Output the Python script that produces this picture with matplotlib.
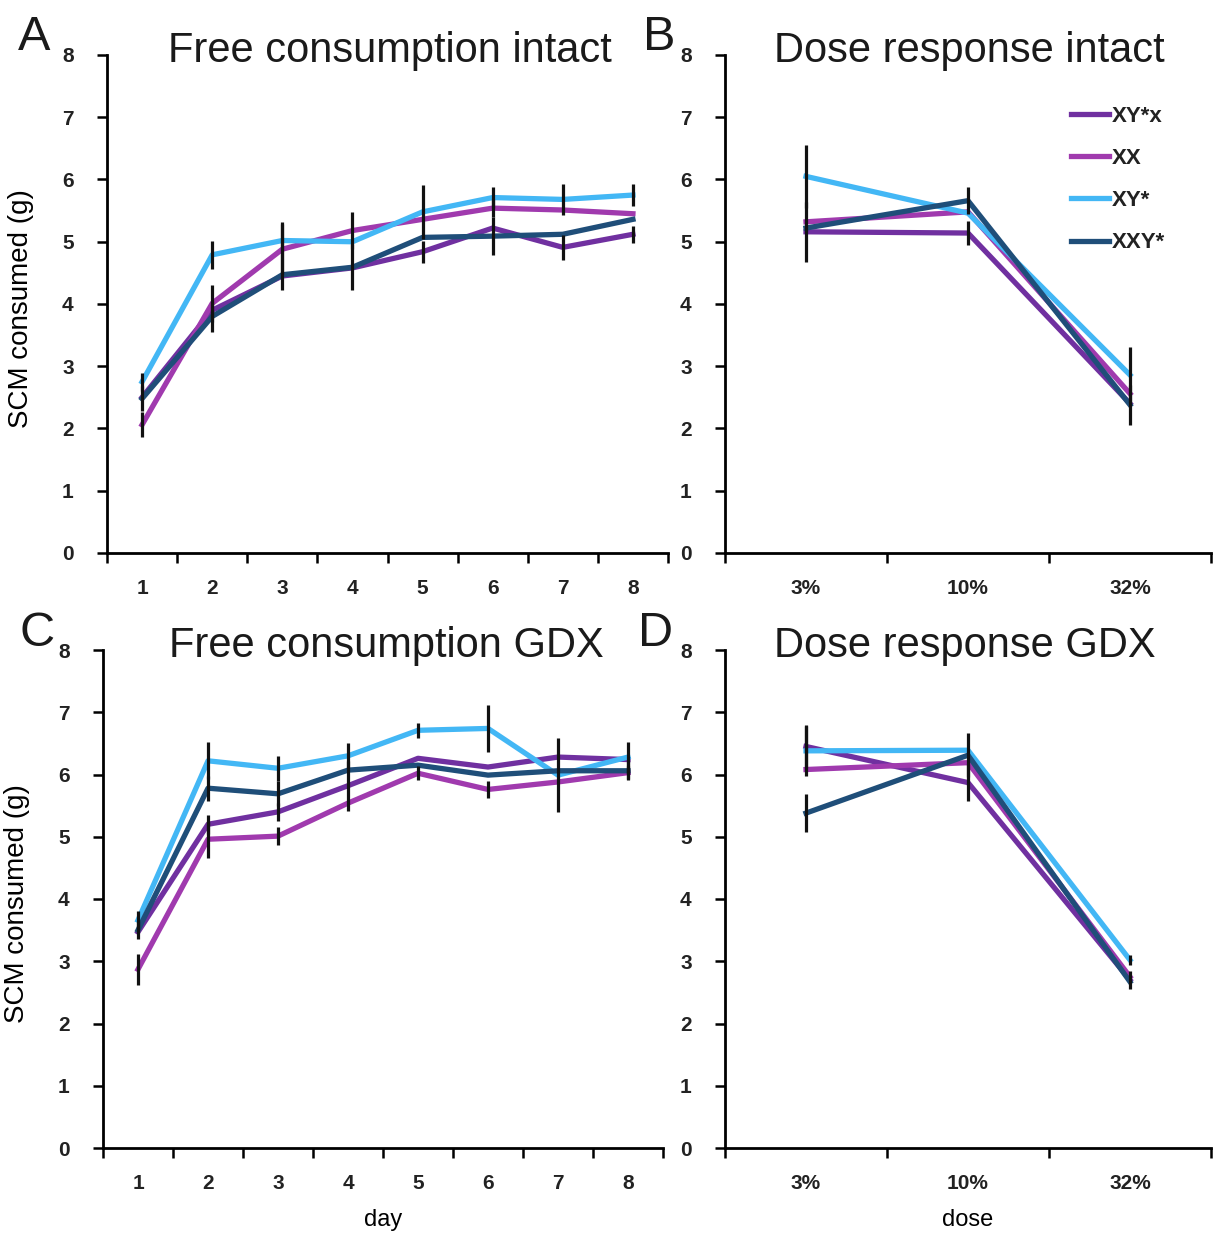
import matplotlib
matplotlib.use("Agg")
import matplotlib.pyplot as plt

series = ["XY*x", "XX", "XY*", "XXY*"]
colors = ["#7030A0", "#A03AAE", "#43B7F5", "#1F4E79"]

days = [1, 2, 3, 4, 5, 6, 7, 8]
doses = ["3%", "10%", "32%"]

# A: free consumption, intact
a_mean = {"XY*x": [2.50, 3.90, 4.45, 4.58, 4.84, 5.22, 4.91, 5.12],
          "XX":   [2.06, 4.01, 4.88, 5.18, 5.36, 5.54, 5.51, 5.45],
          "XY*":  [2.75, 4.79, 5.02, 5.00, 5.48, 5.71, 5.68, 5.75],
          "XXY*": [2.48, 3.80, 4.47, 4.59, 5.07, 5.09, 5.12, 5.36]}
a_err = {"XY*x": [0, 0, 0, 0, 0.18, 0, 0.20, 0.14],
         "XX":   [0.20, 0.30, 0.40, 0.30, 0, 0.15, 0, 0],
         "XY*":  [0.14, 0.22, 0.30, 0, 0.43, 0.17, 0.25, 0.18],
         "XXY*": [0.20, 0.25, 0.25, 0.37, 0, 0.30, 0, 0]}

# B: dose response, intact
b_mean = {"XY*x": [5.16, 5.14, 2.40],
          "XX":   [5.32, 5.48, 2.56],
          "XY*":  [6.05, 5.46, 2.86],
          "XXY*": [5.22, 5.66, 2.38]}
b_err = {"XY*x": [0.48, 0.19, 0],
         "XX":   [0, 0, 0],
         "XY*":  [0.50, 0, 0.45],
         "XXY*": [0, 0.22, 0.32]}

# C: free consumption, GDX
c_mean = {"XY*x": [3.47, 5.20, 5.40, 5.82, 6.26, 6.12, 6.28, 6.24],
          "XX":   [2.87, 4.96, 5.01, 5.54, 6.02, 5.76, 5.88, 6.03],
          "XY*":  [3.66, 6.22, 6.10, 6.30, 6.71, 6.74, 5.99, 6.28],
          "XXY*": [3.50, 5.78, 5.69, 6.07, 6.15, 5.99, 6.06, 6.06]}
c_err = {"XY*x": [0, 0.15, 0.15, 0.40, 0, 0, 0, 0],
         "XX":   [0.25, 0.30, 0.14, 0, 0.11, 0.14, 0, 0.10],
         "XY*":  [0.15, 0.30, 0.20, 0.20, 0.12, 0.38, 0.60, 0.25],
         "XXY*": [0.15, 0.20, 0.20, 0, 0, 0, 0, 0.15]}

# D: dose response, GDX
d_mean = {"XY*x": [6.45, 5.87, 2.70],
          "XX":   [6.08, 6.19, 2.75],
          "XY*":  [6.38, 6.39, 3.02],
          "XXY*": [5.38, 6.31, 2.67]}
d_err = {"XY*x": [0.35, 0.30, 0.15],
         "XX":   [0, 0, 0],
         "XY*":  [0.40, 0, 0.08],
         "XXY*": [0.30, 0.35, 0]}

W, H = 1214, 1235
fig = plt.figure(figsize=(W / 100, H / 100), dpi=100)
tick_font = ["Liberation Sans Narrow", "Liberation Sans", "DejaVu Sans"]
title_font = ["Liberation Sans", "DejaVu Sans"]


def box(x0, x1, ytop, ybot):
    return [x0 / W, 1 - ybot / H, (x1 - x0) / W, (ybot - ytop) / H]


def panel(rect, labels, means, errs):
    ax = fig.add_axes(rect)
    n = len(labels)
    x = list(range(1, n + 1))
    for name, col in zip(series, colors):
        ax.plot(x, means[name], color=col, lw=3.8, label=name, zorder=2)
    for name in series:
        ax.errorbar(x, means[name], yerr=errs[name], fmt="none",
                    ecolor="#111111", elinewidth=2.3, capsize=0, zorder=3)
    ax.set_xlim(0.5, n + 0.5)
    ax.set_ylim(0, 8)
    ax.set_yticks(range(0, 9))
    ax.set_xticks([i + 0.5 for i in range(0, n + 1)])
    ax.set_xticklabels([])
    ax.set_xticks(x, minor=True)
    ax.set_xticklabels(labels, minor=True)
    ax.tick_params(axis="x", which="major", length=7, width=1.8, direction="out")
    ax.tick_params(axis="x", which="minor", length=0, pad=19, labelsize=15)
    ax.tick_params(axis="y", length=7, width=1.8, direction="out", pad=17, labelsize=15)
    for lab in ax.get_xticklabels(minor=True) + ax.get_yticklabels():
        lab.set_family(tick_font)
        lab.set_fontweight("bold")
        lab.set_color("#222222")
    for s in ["top", "right"]:
        ax.spines[s].set_visible(False)
    for s in ["left", "bottom"]:
        ax.spines[s].set_linewidth(2.0)
    return ax


ax_a = panel(box(107, 668, 55, 553), [str(d) for d in days], a_mean, a_err)
ax_b = panel(box(725, 1211, 55, 553), doses, b_mean, b_err)
ax_c = panel(box(103, 663, 650, 1148), [str(d) for d in days], c_mean, c_err)
ax_d = panel(box(725, 1211, 650, 1148), doses, d_mean, d_err)

for ax in (ax_a, ax_c):
    ax.set_ylabel("SCM consumed (g)", fontsize=20, family=tick_font)
    ax.yaxis.set_label_coords(-0.13, 0.49)
ax_c.set_xlabel("day", fontsize=17, family=tick_font)
ax_d.set_xlabel("dose", fontsize=17, family=tick_font)
ax_c.xaxis.set_label_coords(0.5, -0.122)
ax_d.xaxis.set_label_coords(0.5, -0.122)

leg = ax_b.legend(loc="upper left", bbox_to_anchor=(0.69, 0.92), frameon=False,
                  handlelength=1.7, handletextpad=0.1, labelspacing=0.95,
                  borderpad=0, prop={"family": tick_font, "size": 16, "weight": "bold"})
for t in leg.get_texts():
    t.set_color("#222222")

titles = [("Free consumption intact", 390, 62), ("Dose response intact", 969, 62),
          ("Free consumption GDX", 386, 657), ("Dose response GDX", 965, 657)]
for txt, xc, yb in titles:
    fig.text(xc / W, 1 - yb / H, txt, fontsize=30, family=title_font,
             ha="center", va="baseline", color="#1a1a1a")

letters = [("A", 18, 50), ("B", 643, 50), ("C", 20, 646), ("D", 638, 646)]
for txt, xl, yb in letters:
    fig.text(xl / W, 1 - yb / H, txt, fontsize=35, family=title_font,
             ha="left", va="baseline", color="#1a1a1a")

fig.savefig("out.png", dpi=100, facecolor="white")
